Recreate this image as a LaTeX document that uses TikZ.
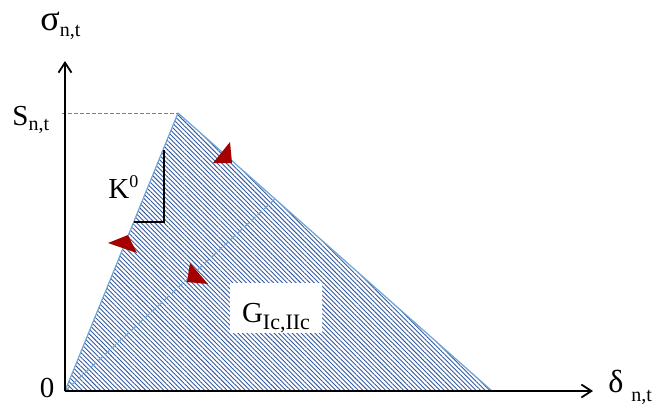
\documentclass[tikz,border=0pt]{standalone}
\usepackage{fontspec}
\setmainfont{Liberation Serif}
\usetikzlibrary{arrows.meta, patterns.meta, positioning}
\definecolor{colorHatch}{RGB}{50, 90, 160}
\definecolor{colorRim}{RGB}{110, 165, 215}
\definecolor{colorTip}{RGB}{165, 0, 0}
\definecolor{colorGuide}{RGB}{128, 128, 128}
\newcommand{\lowtext}[3][10]{\raisebox{#2}{\fontsize{#1}{#1}\selectfont #3}}

\begin{document}
\begin{tikzpicture}[
    x=0.5pt, y=-0.5pt,
    every node/.style={inner sep=0pt},
    axisline/.style={-{Straight Barb[length=5pt, width=6.5pt, line width=0.9pt]}, black, line width=0.7pt},
    greek/.style={font=\fontsize{18}{18}\selectfont},
    latin/.style={font=\fontsize{14.5}{16}\selectfont},
    hatched/.style={pattern={Lines[angle=-45, distance=1.6pt, line width=0.45pt]}, pattern color=colorHatch},
    rim/.style={draw=colorRim, line width=0.6pt, line join=round},
    guide/.style={colorGuide, dash pattern=on 2pt off 1pt, line width=0.5pt},
    slope/.style={black, line width=0.6pt},
    redtip/.style={fill=colorTip}
]
    \useasboundingbox (0,0) rectangle (656,403);

    \coordinate (origin) at (65,391);
    \coordinate (peak) at (178,113);
    \coordinate (ultimate) at (492,391);
    \coordinate (yTip) at (65,61);
    \coordinate (xTip) at (593,391);
    \coordinate (sGuide) at (62,113);
    \coordinate (unload) at (275,199);
    \coordinate (kTop) at (164,150);
    \coordinate (kCorner) at (164,222);
    \coordinate (kFoot) at (134,222);

    % traction-separation area
    \fill[hatched] (origin) -- (peak) -- (ultimate) -- cycle;
    \node[latin, fill=white, minimum width=46pt, text height=19.5pt, text depth=5.5pt, anchor=base]
        (energy) at (276,322) {G\lowtext[11]{-3.5pt}{Ic,IIc}};
    \draw[rim] (origin) -- (peak) -- (ultimate) -- cycle;
    \draw[rim, dash pattern=on 3pt off 1.5pt] (origin) -- (unload);
    \draw[guide] (sGuide) -- (peak);
    \draw[slope] (kTop) -- (kCorner) -- (kFoot);

    \fill[redtip] (213,163) -- (230,142) -- (232,163) -- cycle;
    \fill[redtip] (108,243) -- (128,235) -- (137,253) -- cycle;
    \fill[redtip] (190,263) -- (187,282) -- (208,284) -- cycle;

    \draw[axisline] (origin) -- (yTip);
    \draw[axisline] (origin) -- (xTip);

    \node[greek, anchor=base west] (sigma) at (40,30) {σ\lowtext{-3pt}{n,t}};
    \node[greek, anchor=base west, font=\fontsize{16}{16}\selectfont] (delta) at (608,392)
        {δ\hspace{4pt}\lowtext{-4.5pt}{n,t}};
    \node[latin, anchor=base west] (strength) at (12,125) {S\lowtext{-2.5pt}{n,t}};
    \node[latin, anchor=base] (zero) at (47,397) {0};
    \node[latin, anchor=base west] (stiffness) at (108,198) {K\raisebox{5.5pt}{\fontsize{9}{9}\selectfont 0}};
\end{tikzpicture}
\end{document}
